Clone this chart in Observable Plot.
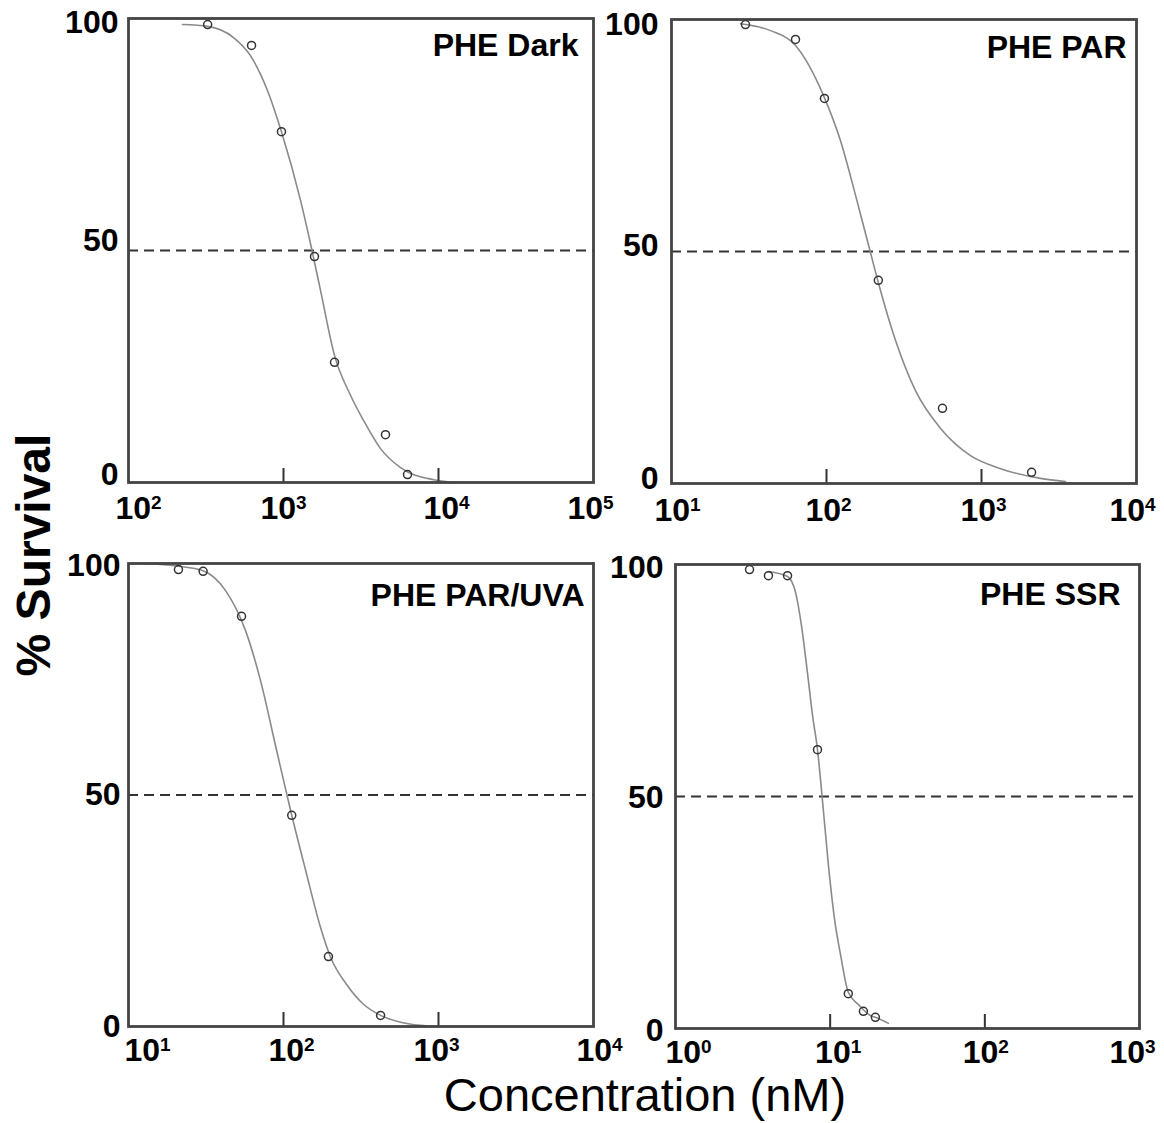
<!DOCTYPE html>
<html>
<head>
<meta charset="utf-8">
<script src="https://cdn.jsdelivr.net/npm/d3@7"></script>
<script src="https://cdn.jsdelivr.net/npm/@observablehq/plot@0.6"></script>
<style>
  body { margin: 0; background: #fff; }
  #chart { position: relative; width: 1164px; height: 1123px; overflow: hidden; background: #fff;
           font-family: "Liberation Sans", Arial, sans-serif; }
  .panel { position: absolute; }
  .panel svg { max-width: none !important; }
  #titles { position: absolute; left: 0; top: 0; }
</style>
</head>
<body>
<div id="chart"></div>
<script>
// ---------- data ----------
const panelLabels = ["PHE Dark", "PHE PAR", "PHE PAR/UVA", "PHE SSR"];
const yTicks = [0, 50, 100];
const refLine = [50];
const yTitle = "% Survival";
const xTitle = "Concentration (nM)";

// decade exponents of each panel's x axis
const darkExps = [2, 3, 4, 5];
const parExps = [1, 2, 3, 4];
const parUvaExps = [1, 2, 3, 4];
const ssrExps = [0, 1, 2, 3];

// measured points (concentration nM, % survival)
const darkConc = [324, 622, 970, 1585, 2133, 4550, 6310];
const darkSurv = [98.7, 94.2, 75.6, 48.7, 25.9, 10.3, 1.7];
const parConc = [30.0, 63.1, 97, 216, 560, 2104];
const parSurv = [98.9, 95.7, 83.0, 43.8, 16.2, 2.4];
const parUvaConc = [21.0, 30.3, 53.6, 113, 195, 423];
const parUvaSurv = [98.7, 98.3, 88.6, 45.6, 15.1, 2.4];
const ssrConc = [3.01, 3.99, 5.30, 8.28, 13.1, 16.4, 19.6];
const ssrSurv = [98.9, 97.6, 97.6, 60.1, 7.5, 3.7, 2.4];

// fitted curves
const darkFitConc = [223, 324, 476, 612, 788, 970, 1288, 1493, 1733, 2133, 2705, 3282, 4227, 5690, 9290, 13270];
const darkFitSurv = [98.7, 98.3, 95.9, 92.0, 84.5, 75.6, 60.8, 51.5, 41.4, 27.4, 18.8, 13.4, 7.3, 3.2, 0.6, 0];
const parFitConc = [27.9, 43.5, 63.1, 95.7, 123, 154, 187, 223, 279, 375, 543, 849, 1328, 2404, 3483];
const parFitSurv = [99.1, 97.6, 94.4, 83.6, 73.9, 62.1, 51.3, 41.6, 30.8, 20.0, 11.9, 6.0, 3.2, 1.1, 0.4];
const parUvaFitConc = [12.7, 16.1, 21.0, 30.0, 42.2, 56.9, 71.1, 88.8, 111, 139, 173, 201, 259, 328, 423, 569, 929];
const parUvaFitSurv = [100, 99.8, 99.4, 98.5, 94.2, 85.5, 74.7, 60.7, 46.7, 33.7, 21.5, 15.0, 8.8, 4.8, 2.4, 0.9, 0];
const ssrFitConc = [3.99, 5.30, 5.97, 6.52, 7.13, 7.69, 8.28, 8.92, 9.75, 10.7, 11.7, 13.1, 15.2, 18.2, 19.6, 23.8];
const ssrFitSurv = [98.5, 97.4, 94.0, 86.9, 76.7, 67.5, 60.1, 49.1, 35.1, 23.3, 15.7, 7.8, 5.2, 2.8, 2.4, 1.1];

// ---------- layout ----------
const FONT = '"Liberation Sans", Arial, Helvetica, sans-serif';
const chart = document.getElementById("chart");

const panels = [
  {label: panelLabels[0], exps: darkExps, conc: darkConc, surv: darkSurv, fitConc: darkFitConc, fitSurv: darkFitSurv,
   x0: 128, x1: 593, y0: 18, y1: 482, ypad: 10, xpad: 14, lx: 15, ly: 37,
   yShift: [-8, -10, 4], xShift: [10, 0, 8, -3]},
  {label: panelLabels[1], exps: parExps, conc: parConc, surv: parSurv, fitConc: parFitConc, fitSurv: parFitSurv,
   x0: 671, x1: 1136, y0: 19, y1: 483, ypad: 13, xpad: 15, lx: 10, ly: 38,
   yShift: [-5, -6, 5], xShift: [6, 2, 2, -4]},
  {label: panelLabels[2], exps: parUvaExps, conc: parUvaConc, surv: parUvaSurv, fitConc: parUvaFitConc, fitSurv: parUvaFitSurv,
   x0: 128, x1: 593, y0: 563, y1: 1026, ypad: 8, xpad: 12, lx: 9, ly: 42,
   yShift: [0, 0, 2], xShift: [19, 8, -2, 6]},
  {label: panelLabels[3], exps: ssrExps, conc: ssrConc, surv: ssrSurv, fitConc: ssrFitConc, fitSurv: ssrFitSurv,
   x0: 675, x1: 1139, y0: 564, y1: 1028, ypad: 12, xpad: 12, lx: 19, ly: 40,
   yShift: [2, 1, 3], xShift: [13, 8, 1, -7]}
];

// axis titles
const svgNS = "http://www.w3.org/2000/svg";
const titles = d3.select(chart).append("svg")
  .attr("id", "titles").attr("width", 1164).attr("height", 1123)
  .style("font-family", FONT);
titles.append("text")
  .attr("transform", "translate(50,555) rotate(-90)")
  .attr("text-anchor", "middle")
  .attr("font-size", 48).attr("font-weight", "bold").attr("fill", "#000")
  .text(yTitle);
titles.append("text")
  .attr("x", 645).attr("y", 1111)
  .attr("text-anchor", "middle")
  .attr("font-size", 47).attr("fill", "#000")
  .text(xTitle);

function shift(t, dx, dy) {
  const tr = t.getAttribute("transform") || "";
  t.setAttribute("transform", `${tr} translate(${dx},${dy})`.trim());
}

function drawPanel(p) {
  const mL = 75, mR = 40, mT = 20, mB = 60;
  const fw = p.x1 - p.x0, fh = p.y1 - p.y0;
  const W = fw + mL + mR, H = fh + mT + mB;
  const ticks = p.exps.map(e => 10 ** e);
  const pts = p.conc.map((c, i) => ({c, s: p.surv[i]}));
  const fit = p.fitConc.map((c, i) => ({c, s: p.fitSurv[i]}));
  const svg = Plot.plot({
    width: W,
    height: H,
    marginLeft: mL, marginRight: mR, marginTop: mT, marginBottom: mB,
    style: {background: "transparent", overflow: "visible", fontFamily: FONT, color: "#000", maxWidth: "none"},
    x: {type: "log", domain: [ticks[0], ticks[ticks.length - 1]], label: null},
    y: {domain: [0, 100], label: null},
    marks: [
      Plot.ruleY(refLine, {stroke: "#333", strokeWidth: 1.8, strokeDasharray: "10,6"}),
      Plot.line(fit, {x: "c", y: "s", stroke: "#8a8a8a", strokeWidth: 1.6, curve: "monotone-x"}),
      Plot.dot(pts, {x: "c", y: "s", r: 4, stroke: "#333", strokeWidth: 1.5, fill: "none"}),
      Plot.tickX(ticks.slice(1, -1), {x: d => d, insetTop: fh - 14, stroke: "#333", strokeWidth: 2}),
      Plot.frame({stroke: "#444", strokeWidth: 2.8}),
      Plot.axisY(yTicks, {tickSize: 0, tickPadding: p.ypad, fontSize: 32, fontWeight: "bold", label: null,
                          tickFormat: d => String(d)}),
      Plot.axisX(ticks, {tickSize: 0, tickPadding: p.xpad, fontSize: 32, fontWeight: "bold", label: null,
                         tickFormat: d => "10^" + Math.round(Math.log10(d))}),
      Plot.text([p.label], {frameAnchor: "top-right", textAnchor: "end", lineAnchor: "bottom",
                            dx: -p.lx, dy: p.ly, fontSize: 32, fontWeight: "bold", fill: "#000"})
    ]
  });
  svg.style.maxWidth = "none";
  svg.setAttribute("width", W);
  svg.setAttribute("height", H);
  // turn "10^n" into 10 with a superscript n, nudge to the reference's positions
  svg.querySelectorAll('g[aria-label="x-axis tick label"] text').forEach((t, i) => {
    const [base, exp] = t.textContent.split("^");
    if (exp === undefined) return;
    t.textContent = base;
    const ts = document.createElementNS(svgNS, "tspan");
    ts.setAttribute("dy", "-10");
    ts.setAttribute("font-size", "19");
    ts.textContent = exp;
    t.appendChild(ts);
    shift(t, p.xShift[i] || 0, 0);
  });
  svg.querySelectorAll('g[aria-label="y-axis tick label"] text').forEach((t, i) => {
    shift(t, 0, p.yShift[i] || 0);
  });
  const div = document.createElement("div");
  div.className = "panel";
  div.style.left = (p.x0 - mL) + "px";
  div.style.top = (p.y0 - mT) + "px";
  div.style.width = W + "px";
  div.style.height = H + "px";
  div.appendChild(svg);
  chart.appendChild(div);
}

panels.forEach(drawPanel);
</script>
</body>
</html>
